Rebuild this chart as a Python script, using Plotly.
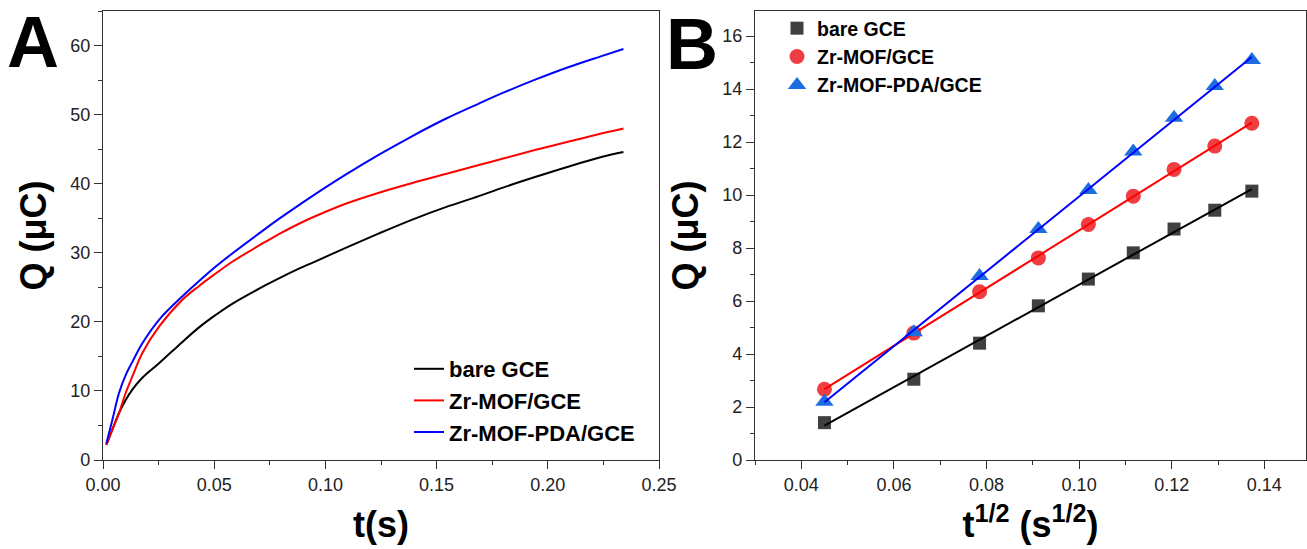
import numpy as np
import plotly.graph_objects as go

# ---------------- Panel A data (chronocoulometry) ----------------
t_s = [0.0015, 0.0042, 0.0072, 0.0102, 0.0132, 0.0177, 0.0252, 0.0357, 0.0432,
       0.0507, 0.0581, 0.0731, 0.0791, 0.0881, 0.0941, 0.1091, 0.1241, 0.1391,
       0.1541, 0.1690, 0.1795, 0.1946, 0.2095, 0.2245, 0.2340]
q_bare = [2.2, 4.4, 6.8, 8.7, 10.2, 11.9, 14.0, 17.1, 19.2, 21.0, 22.6, 25.3, 26.3,
          27.7, 28.55, 30.7, 32.8, 34.8, 36.6, 38.2, 39.4, 41.0, 42.5, 43.9, 44.6]
q_mof = [2.2, 4.4, 6.8, 9.7, 12.1, 15.5, 19.3, 23.2, 25.2, 27.0, 28.7, 31.6, 32.7,
         34.2, 35.1, 37.1, 38.7, 40.1, 41.4, 42.7, 43.6, 44.9, 46.1, 47.3, 48.0]
q_pda = [2.4, 5.8, 9.7, 12.3, 14.2, 16.9, 20.3, 23.7, 25.9, 28.0, 29.9, 33.5, 34.9,
         36.9, 38.2, 41.3, 44.2, 46.9, 49.4, 51.6, 53.1, 55.1, 56.9, 58.5, 59.5]

# ---------------- Panel B data (Anson plot) ----------------
sqrt_t = [0.0450, 0.0643, 0.0785, 0.0912, 0.1020, 0.1117, 0.1205, 0.1293, 0.1373]
qb_bare = [1.41, 3.05, 4.41, 5.82, 6.83, 7.82, 8.72, 9.43, 10.15]
qb_mof = [2.67, 4.79, 6.35, 7.63, 8.89, 9.96, 10.97, 11.85, 12.71]
qb_pda = [2.20, 4.82, 6.95, 8.72, 10.19, 11.65, 12.92, 14.12, 15.10]

series_names = ["bare GCE", "Zr-MOF/GCE", "Zr-MOF-PDA/GCE"]

FONT = "Liberation Sans, Arial, sans-serif"
W, H = 1307, 549

fig = go.Figure()

# Panel A curves
line_cols_a = ["#000000", "#ff0000", "#0000ff"]
for name, q, c in zip(series_names, [q_bare, q_mof, q_pda], line_cols_a):
    fig.add_trace(go.Scatter(x=t_s, y=q, mode="lines", name="<b>" + name + "</b>",
                             line=dict(color=c, width=2, shape="spline", smoothing=1.0),
                             xaxis="x", yaxis="y", legend="legend"))

# Panel B markers + linear fits
marker_cols = ["#404040", "#ef3d42", "#1c6ee0"]
fit_cols = ["#000000", "#ff0000", "#0000ff"]
symbols = ["square", "circle", "triangle-up"]
sizes = [13, 15, 16]
xs = np.array(sqrt_t)
for name, q, mc, fc, sym, sz in zip(series_names, [qb_bare, qb_mof, qb_pda],
                                    marker_cols, fit_cols, symbols, sizes):
    fig.add_trace(go.Scatter(x=sqrt_t, y=q, mode="markers", name="<b>" + name + "</b>",
                             marker=dict(symbol=sym, size=sz, color=mc, line=dict(width=0)),
                             xaxis="x2", yaxis="y2", legend="legend2"))
    k, b = np.polyfit(xs, np.array(q), 1)
    xf = [xs.min(), xs.max()]
    fig.add_trace(go.Scatter(x=xf, y=[k * v + b for v in xf], mode="lines",
                             line=dict(color=fc, width=2), showlegend=False,
                             xaxis="x2", yaxis="y2", hoverinfo="skip"))

ydom = [1 - 460 / H, 1 - 11 / H]
axis_common = dict(showline=True, linecolor="#333333", linewidth=1.3, mirror=True,
                   ticks="outside", ticklen=8, tickwidth=1.2, tickcolor="#333333",
                   showgrid=False, zeroline=False, automargin=False,
                   tickfont=dict(family=FONT, size=18, color="#222222"),
                   title_font=dict(family=FONT, size=36, color="#000000"))

fig.update_layout(
    width=W, height=H,
    margin=dict(l=0, r=0, t=0, b=0, autoexpand=False),
    paper_bgcolor="white", plot_bgcolor="white",
    font=dict(family=FONT),
    xaxis=dict(domain=[103 / W, 659 / W], range=[0, 0.25], anchor="y",
               dtick=0.05, tickformat=".2f",
               minor=dict(ticks="outside", ticklen=4, dtick=0.025, tickcolor="#333333"),
               title=dict(text="<b>t(s)</b>", standoff=18), **axis_common),
    yaxis=dict(domain=ydom, range=[0, 65], anchor="x", dtick=10,
               minor=dict(ticks="outside", ticklen=4, dtick=5, tickcolor="#333333"),
               title=dict(text="<b>Q (μC)</b>", standoff=12), **axis_common),
    xaxis2=dict(domain=[755 / W, 1306 / W], range=[0.030, 0.149], anchor="y2",
                dtick=0.02, tick0=0.04, tickformat=".2f",
                minor=dict(ticks="outside", ticklen=4, dtick=0.01, tickcolor="#333333"),
                title=dict(text="<b>t<sup>1/2</sup> (s<sup>1/2</sup>)</b>", standoff=18),
                **axis_common),
    yaxis2=dict(domain=ydom, range=[0, 16.95], anchor="x2", dtick=2,
                minor=dict(ticks="outside", ticklen=4, dtick=1, tickcolor="#333333"),
                title=dict(text="<b>Q (μC)</b>", standoff=12), **axis_common),
    legend=dict(x=409 / W, y=1 - 348 / H, xanchor="left", yanchor="top",
                bgcolor="rgba(0,0,0,0)", borderwidth=0,
                font=dict(family=FONT, size=22, color="#000000"),
                tracegroupgap=0),
    legend2=dict(x=777 / W, y=1 - 9 / H, xanchor="left", yanchor="top",
                 bgcolor="rgba(0,0,0,0)", borderwidth=0,
                 font=dict(family=FONT, size=19.5, color="#000000"),
                 tracegroupgap=0),
    annotations=[
        dict(text="<b>A</b>", x=33 / W, y=1 - 42 / H, xref="paper", yref="paper",
             showarrow=False, xanchor="center", yanchor="middle",
             font=dict(family=FONT, size=72, color="#000000")),
        dict(text="<b>B</b>", x=692 / W, y=1 - 44 / H, xref="paper", yref="paper",
             showarrow=False, xanchor="center", yanchor="middle",
             font=dict(family=FONT, size=72, color="#000000")),
    ],
)

fig.write_html("out.html", config={"displayModeBar": False},
               post_script="document.body.style.margin='0px';document.body.style.overflow='hidden';")
